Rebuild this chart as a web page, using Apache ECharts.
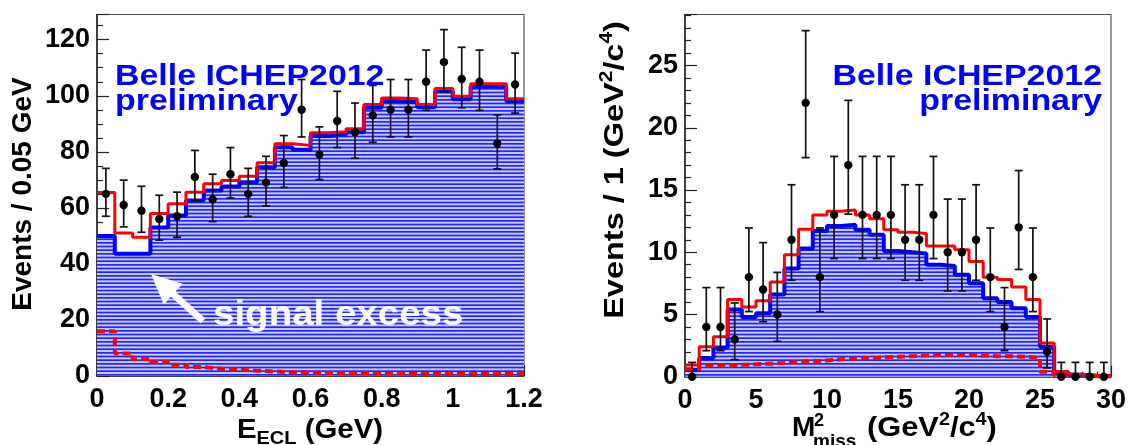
<!DOCTYPE html>
<html>
<head>
<meta charset="utf-8">
<script src="https://cdn.jsdelivr.net/npm/echarts@6/dist/echarts.min.js"></script>
<style>
  html, body { margin: 0; padding: 0; background: #ffffff; }
  #chart { width: 1129px; height: 445px; }
</style>
</head>
<body>
<div id="chart"></div>
<script>
// ---------- E_ECL spectrum: 24 bins of 0.05 GeV ----------
const eclBinWidth = 0.05;
const eclData  = [65, 61, 59, 56, 57, 71, 63, 72, 65, 69, 76, 95, 79, 91, 87, 93, 95, 95, 105, 112, 106, 105, 83, 104];
const eclLow   = [57.0, 53.2, 51.3, 48.5, 49.5, 62.6, 55.1, 63.5, 57.0, 60.7, 67.3, 85.3, 70.1, 81.5, 77.7, 83.4, 85.3, 85.3, 94.8, 101.4, 95.7, 94.8, 73.9, 93.8];
const eclHigh  = [74.1, 69.9, 67.7, 64.5, 65.6, 80.5, 72.0, 81.5, 74.1, 78.4, 85.8, 105.8, 88.9, 101.6, 97.4, 103.7, 105.8, 105.8, 116.3, 123.6, 117.3, 116.3, 93.2, 115.2];
const eclTotal = [65.5, 51, 49.5, 58, 61.5, 65.6, 68.6, 69.8, 71.3, 76.1, 82.9, 82.3, 86.8, 87.2, 88.2, 96.9, 99.2, 98.9, 96.9, 102.6, 99.8, 104.3, 104.3, 98.9];
const eclBkg   = [50, 43.6, 43.6, 53, 57.3, 62.6, 66.2, 67.6, 69.1, 74.5, 81.6, 80.7, 85.6, 86.2, 87, 95.7, 98.1, 97.8, 95.9, 101.6, 98.8, 103.3, 103.3, 98.1];
const eclPeak  = [16, 8, 6, 5, 4, 3.2, 2.6, 2.2, 1.9, 1.6, 1.3, 1.2, 1.1, 1.0, 1.0, 0.9, 0.9, 0.8, 0.8, 0.8, 0.7, 0.7, 0.7, 0.7];

// ---------- M^2_miss spectrum: 30 bins of 1 GeV^2/c^4 ----------
const mmBinWidth = 1;
const mmData  = [0, 4, 4, 3, 8, 7, 5, 11, 22, 8, 13, 17, 13, 13, 13, 11, 11, 13, 10, 10, 11, 8, 4, 12, 8, 2, 0, 0, 0, 0];
const mmLow   = [0, 2.09, 2.09, 1.37, 5.23, 4.42, 2.84, 7.75, 17.6, 5.23, 9.49, 13.06, 9.49, 9.49, 9.49, 7.75, 7.75, 9.49, 6.89, 6.89, 7.75, 5.23, 2.09, 8.62, 5.23, 0.71, 0, 0, 0, 0];
const mmHigh  = [1.15, 7.16, 7.16, 5.92, 11.95, 10.77, 8.38, 15.42, 27.8, 11.95, 17.7, 22.2, 17.7, 17.7, 17.7, 15.42, 15.42, 17.7, 14.27, 14.27, 15.42, 11.95, 7.16, 16.56, 11.95, 4.64, 1.15, 1.15, 1.15, 1.15];
const mmTotal = [0.95, 2.4, 3.2, 6.2, 5.6, 6.1, 7.6, 9.8, 11.85, 13.0, 13.3, 13.4, 13.0, 12.7, 11.8, 11.6, 11.5, 10.5, 10.5, 10.2, 9.25, 8.0, 7.8, 7.2, 6.2, 2.7, 0.4, 0.2, 0.1, 0.05];
const mmBkg   = [0.55, 1.5, 2.35, 5.4, 4.8, 5.1, 6.6, 8.7, 10.3, 11.7, 12.1, 12.2, 11.8, 11.4, 10.1, 10.0, 9.9, 9.0, 8.9, 8.2, 7.5, 6.3, 6.0, 5.5, 4.8, 2.4, 0.35, 0.15, 0.08, 0.05];
const mmPeak  = [0.6, 0.9, 0.9, 0.95, 1.0, 1.05, 1.1, 1.2, 1.25, 1.3, 1.4, 1.45, 1.5, 1.55, 1.6, 1.65, 1.7, 1.75, 1.75, 1.75, 1.7, 1.65, 1.65, 1.6, 1.5, 0.4, 0.1, 0.05, 0.03, 0.02];

const FONT = 'Liberation Sans, Arial, Helvetica, sans-serif';
const BLUE = '#0000ff';
const RED = '#ff0000';

// Histogram outline: one point at each lower bin edge plus the closing upper edge.
function stepPoints(values, width) {
  const pts = values.map((v, i) => [i * width, v]);
  pts.push([values.length * width, values[values.length - 1]]);
  return pts;
}

// Horizontal-line hatch used for the background fill.
function hatchCanvas() {
  const c = document.createElement('canvas');
  c.width = 8; c.height = 11;
  const g = c.getContext('2d');
  g.fillStyle = '#c8ccff';
  g.fillRect(0, 0, 8, 11);
  g.fillStyle = '#2424ff';
  for (let k = 0; k < 3; k++) g.fillRect(0, k * 11 / 3, 8, 1.7);
  return c;
}
const hatch = { image: hatchCanvas(), repeat: 'repeat' };

function histSeries(idx, values, width, opts) {
  return Object.assign({
    type: 'line', xAxisIndex: idx, yAxisIndex: idx,
    step: 'end', showSymbol: false, symbol: 'none',
    data: stepPoints(values, width), silent: true, animation: false
  }, opts);
}

function errorSeries(idx, values, lo, hi, width) {
  return {
    type: 'custom', xAxisIndex: idx, yAxisIndex: idx, clip: false, z: 10,
    silent: true, animation: false,
    data: values.map((v, i) => [(i + 0.5) * width, v, lo[i], hi[i]]),
    renderItem(params, api) {
      const x = api.value(0);
      const c = api.coord([x, api.value(1)]);
      const yl = api.coord([x, api.value(2)])[1];
      const yh = api.coord([x, api.value(3)])[1];
      const cap = 4;
      const st = { stroke: '#111', lineWidth: 1.7 };
      return {
        type: 'group', children: [
          { type: 'line', shape: { x1: c[0], y1: yl, x2: c[0], y2: yh }, style: st },
          { type: 'line', shape: { x1: c[0] - cap, y1: yl, x2: c[0] + cap, y2: yl }, style: st },
          { type: 'line', shape: { x1: c[0] - cap, y1: yh, x2: c[0] + cap, y2: yh }, style: st },
          { type: 'circle', shape: { cx: c[0], cy: c[1], r: 4.2 }, style: { fill: '#000' } }
        ]
      };
    }
  };
}

function panelSeries(idx, w, total, bkg, peak, data, lo, hi) {
  return [
    histSeries(idx, bkg, w, {
      lineStyle: { color: BLUE, width: 4 },
      areaStyle: { color: hatch, opacity: 1 }, z: 2
    }),
    histSeries(idx, peak, w, {
      lineStyle: { color: RED, width: 4, type: [8, 4] }, z: 3
    }),
    histSeries(idx, total, w, {
      lineStyle: { color: RED, width: 3 }, z: 4
    }),
    errorSeries(idx, data, lo, hi, w)
  ];
}

const labelStyle = { color: '#000', fontSize: 27, fontWeight: 'bold', fontFamily: FONT };
function xAxisDef(idx, max, interval) {
  return {
    type: 'value', gridIndex: idx, min: 0, max: max, interval: interval,
    axisLine: { show: true, onZero: false, lineStyle: { color: '#222', width: 1.5 } },
    axisTick: { show: true, inside: true, length: 11, lineStyle: { color: '#222', width: 1.2 } },
    minorTick: { show: true, splitNumber: idx === 0 ? 4 : 5, length: 5, lineStyle: { color: '#222', width: 1.2 } },
    axisLabel: Object.assign({ margin: 10 }, labelStyle),
    splitLine: { show: false }
  };
}
function yAxisDef(idx, max, interval) {
  return {
    type: 'value', gridIndex: idx, min: 0, max: max, interval: interval,
    axisLine: { show: true, onZero: false, lineStyle: { color: '#222', width: 1.5 } },
    axisTick: { show: true, inside: true, length: 12, lineStyle: { color: '#222', width: 1.2 } },
    minorTick: { show: true, splitNumber: idx === 0 ? 4 : 5, length: 6, lineStyle: { color: '#222', width: 1.2 } },
    axisLabel: Object.assign({ margin: 7, showMaxLabel: false }, labelStyle),
    splitLine: { show: false }
  };
}

function txt(x, y, text, size, fill, extra, styleExtra) {
  return Object.assign({
    type: 'text', x: x, y: y, z: 20, silent: true,
    style: Object.assign({
      text: text, x: 0, y: 0, fill: fill,
      fontSize: size, fontWeight: 'bold', fontFamily: FONT,
      align: 'left', textAlign: 'left', verticalAlign: 'middle', textVerticalAlign: 'middle'
    }, styleExtra || {})
  }, extra || {});
}

const supRich = { s: { fontSize: 18, fontWeight: 'bold', fontFamily: FONT, verticalAlign: 'top', lineHeight: 18, fill: '#000' } };
const subRich = { d: { fontSize: 19, fontWeight: 'bold', fontFamily: FONT, verticalAlign: 'bottom', lineHeight: 19, fill: '#000' } };

const graphics = [
  // experiment tags
  txt(115, 76.5, 'Belle ICHEP2012', 30, BLUE, { scaleX: 1.13 }),
  txt(115, 101.5, 'preliminary', 30, BLUE, { scaleX: 1.13 }),
  txt(1102, 76.5, 'Belle ICHEP2012', 30, BLUE, { scaleX: 1.13 }, { align: 'right', textAlign: 'right' }),
  txt(1102, 101.5, 'preliminary', 30, BLUE, { scaleX: 1.13 }, { align: 'right', textAlign: 'right' }),
  // excess annotation
  txt(213, 315, 'signal excess', 35, '#ffffff', { scaleX: 1.1 }),
  { type: 'line', z: 20, silent: true, shape: { x1: 203, y1: 321, x2: 172, y2: 293 },
    style: { stroke: '#ffffff', lineWidth: 7 } },
  { type: 'polygon', z: 20, silent: true, shape: { points: [[151, 274], [182.6, 283.7], [163.8, 304.5]] },
    style: { fill: '#ffffff' } },
  // axis titles
  txt(23, 194, 'Events / 0.05 GeV', 28, '#000', { rotation: Math.PI / 2 }, { align: 'center', textAlign: 'center' }),
  txt(615, 170, 'Events / 1 (GeV{s|2}/c{s|4})', 28, '#000', { rotation: Math.PI / 2, scaleX: 1.16 },
      { align: 'center', textAlign: 'center', lineHeight: 34, rich: supRich }),
  txt(310, 430, 'E{d|ECL} (GeV)', 28, '#000', { scaleX: 1.05, originX: 0 },
      { align: 'center', textAlign: 'center', lineHeight: 36, rich: subRich }),
  txt(792, 428, 'M', 28, '#000'),
  txt(814, 421, '2', 18, '#000'),
  txt(813, 442, 'miss', 19, '#000'),
  txt(867, 428, '(GeV{s|2}/c{s|4})', 28, '#000', { scaleX: 1.1 },
      { lineHeight: 34, rich: supRich })
];

const chart = echarts.init(document.getElementById('chart'), null, { renderer: 'canvas' });
chart.setOption({
  animation: false,
  backgroundColor: '#ffffff',
  grid: [
    { left: 97, top: 14.5, width: 427, height: 361.5, show: true, borderColor: '#555', borderWidth: 1.2, backgroundColor: 'transparent' },
    { left: 685, top: 14.5, width: 427, height: 362.2, show: true, borderColor: '#555', borderWidth: 1.2, backgroundColor: 'transparent' }
  ],
  xAxis: [xAxisDef(0, 1.2, 0.2), xAxisDef(1, 30, 5)],
  yAxis: [yAxisDef(0, 129, 20), yAxisDef(1, 29.1, 5)],
  series: [].concat(
    panelSeries(0, eclBinWidth, eclTotal, eclBkg, eclPeak, eclData, eclLow, eclHigh),
    panelSeries(1, mmBinWidth, mmTotal, mmBkg, mmPeak, mmData, mmLow, mmHigh)
  ),
  graphic: { elements: graphics }
});
</script>
</body>
</html>
